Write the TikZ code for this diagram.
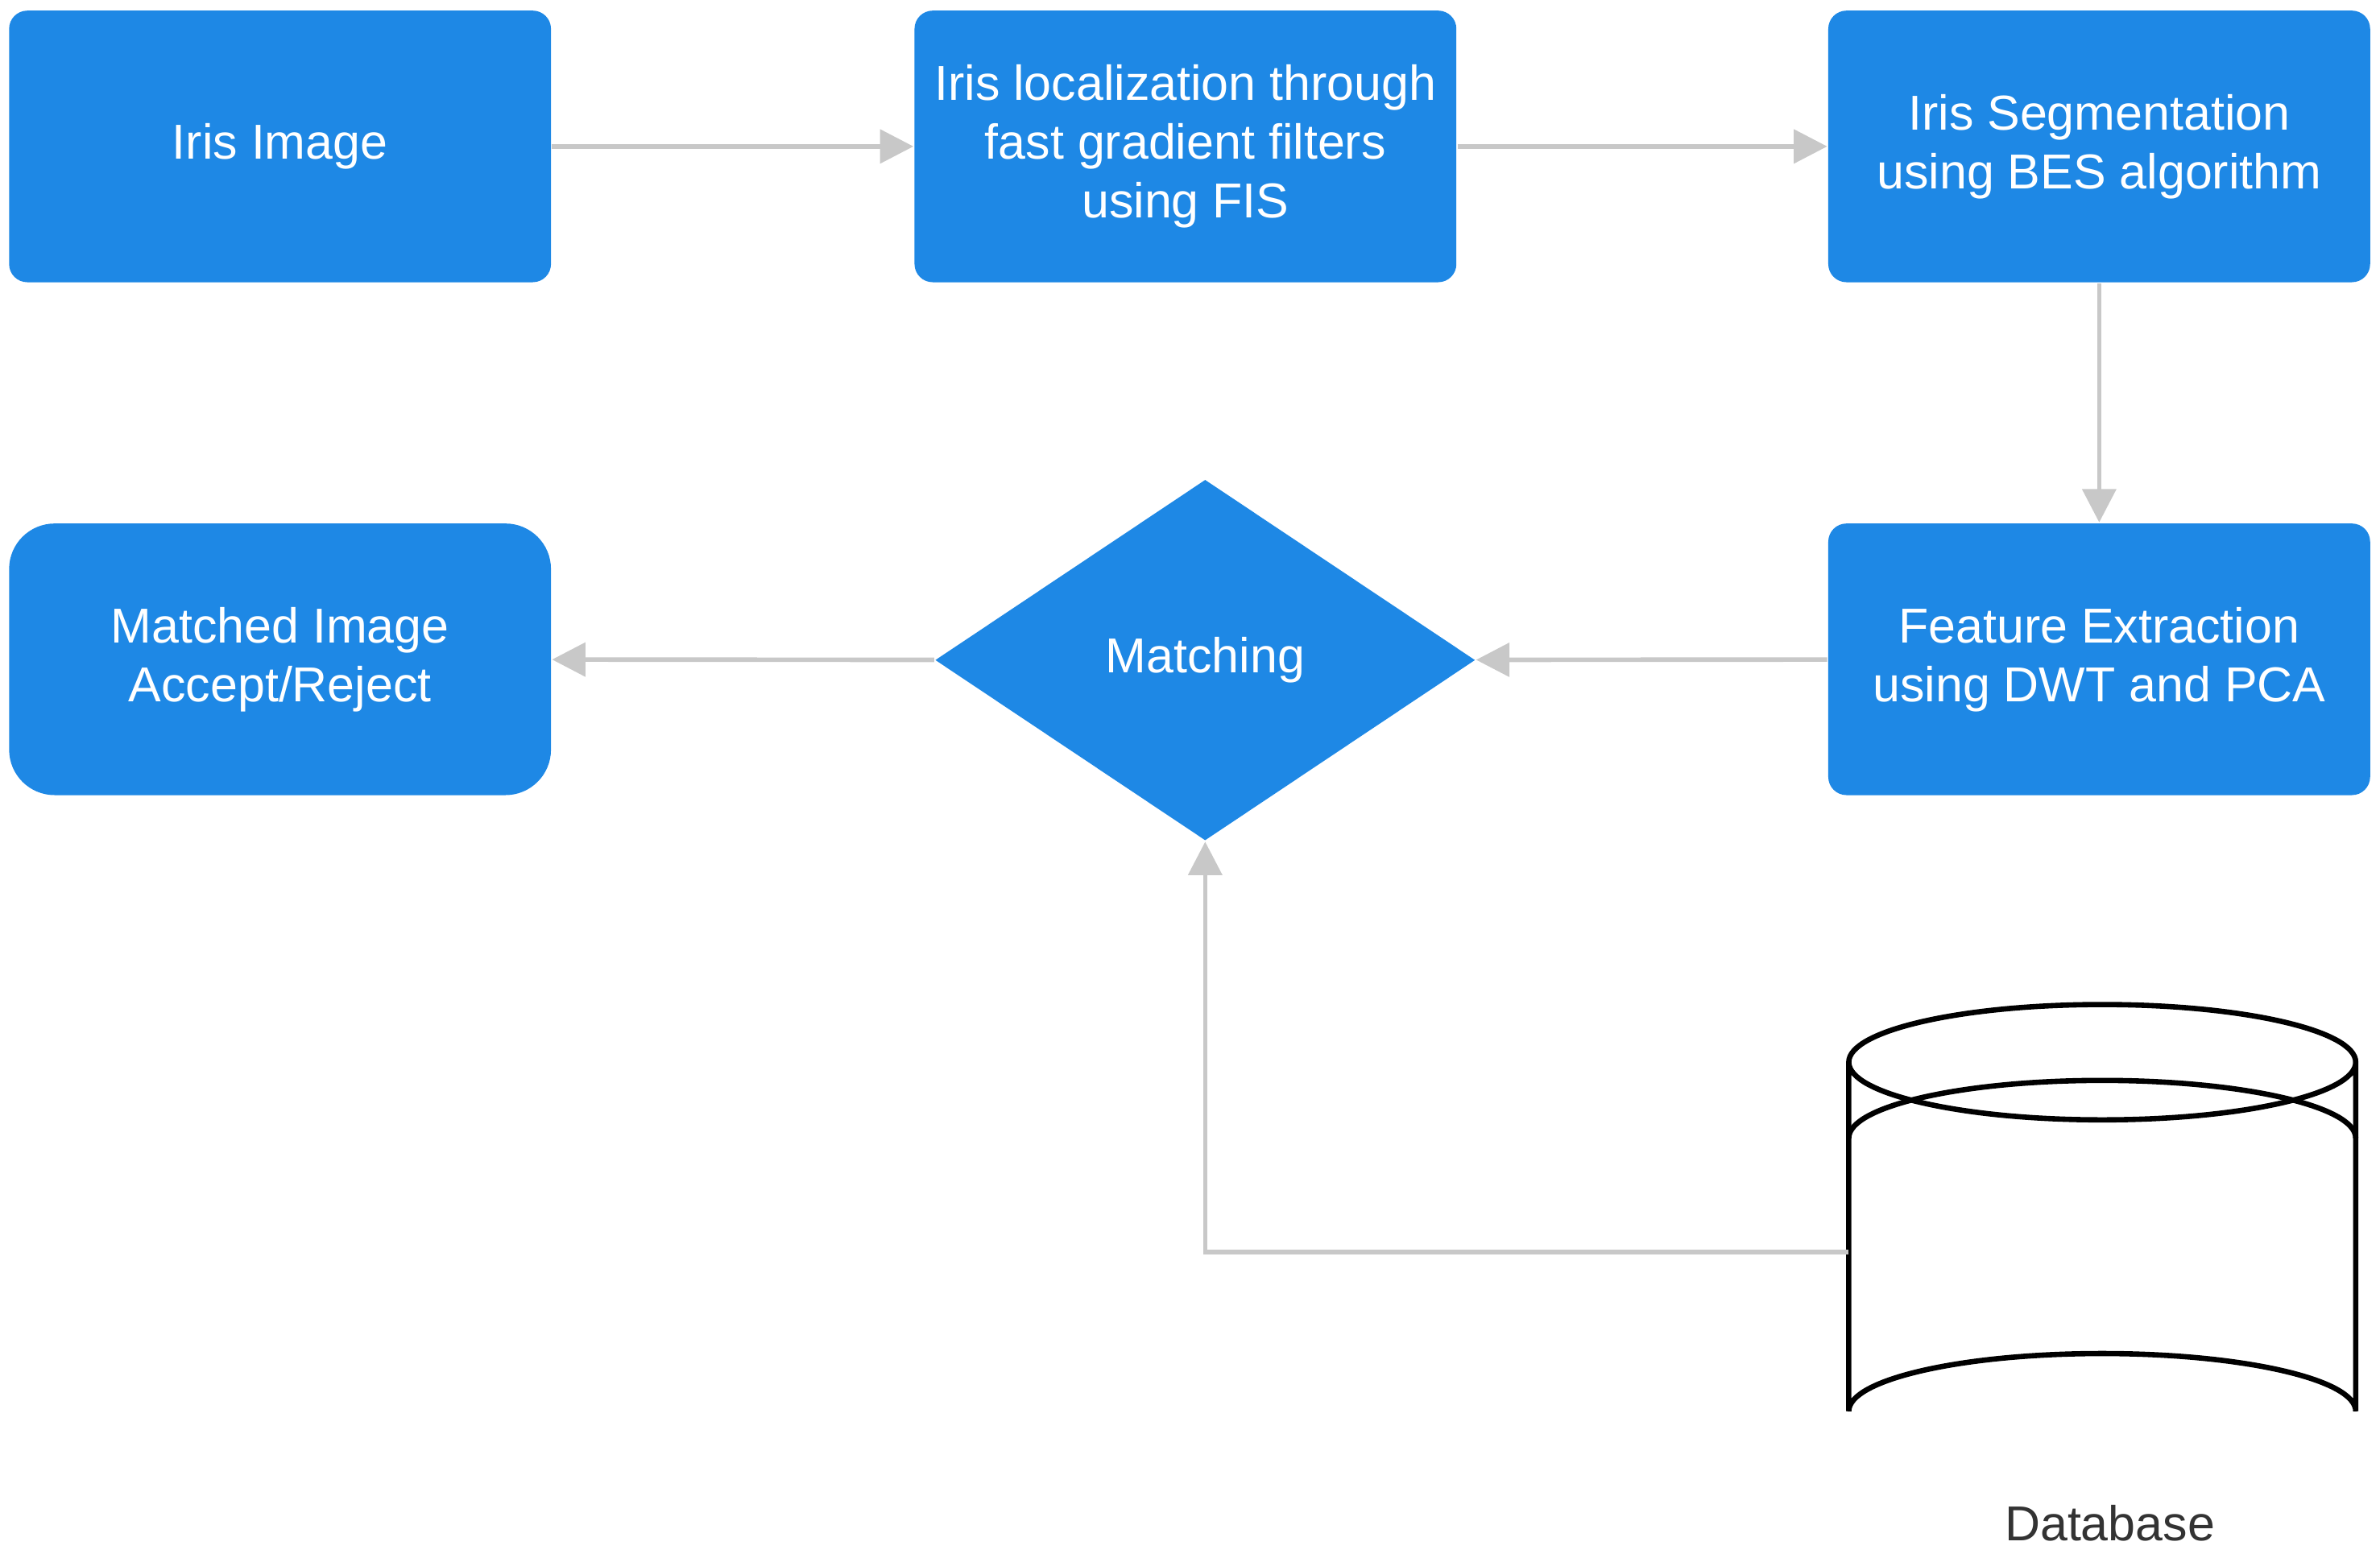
\documentclass[tikz,border=0pt]{standalone}
\usepackage{fontspec}
\setmainfont{Liberation Sans}
\usetikzlibrary{shapes.geometric,arrows.meta}
\definecolor{boxblue}{HTML}{1E88E5}
\definecolor{lg}{HTML}{C8C8C8}
\begin{document}
\begin{tikzpicture}[x=0.1mm,y=-0.1mm,
 box/.style={fill=boxblue,draw=none,rounded corners=1.2mm,minimum width=35.7mm,minimum height=17.9mm,text=white,align=center,font=\fontsize{9.2}{11}\selectfont,inner sep=0pt},
 conn/.style={draw=lg,line width=0.3mm,-{Triangle[length=2.2mm,width=2.2mm]}}]
\useasboundingbox (0,0) rectangle (1568,1024);
\node[box] (img) at (184.5,96.5) {Iris Image};
\node[box] (loc) at (781,96.5) {Iris localization through\\fast gradient filters\\using FIS};
\node[box] (seg) at (1383,96.5) {Iris Segmentation\\using BES algorithm};
\node[box] (feat) at (1383,434.5) {Feature Extraction\\using DWT and PCA};
\node[box,rounded corners=3mm] (res) at (184.5,434.5) {Matched Image\\Accept/Reject};
\node[diamond,fill=boxblue,minimum width=35.6mm,minimum height=23.8mm,inner sep=0pt,text=white,font=\fontsize{9.2}{11}\selectfont] (match) at (794,435) {Matching};
% database
\draw[black,line width=0.35mm,fill=white] (1218,700) -- (1218,930) arc[start angle=180,end angle=360,x radius=167,y radius=38] -- (1552,700) arc[start angle=0,end angle=180,x radius=167,y radius=38] -- cycle;
\draw[black,line width=0.35mm] (1218,700) arc[start angle=180,end angle=360,x radius=167,y radius=38];
\draw[black,line width=0.35mm] (1218,750) arc[start angle=180,end angle=360,x radius=167,y radius=38];
\coordinate (db) at (1218,825);
\node[text=black!80,font=\fontsize{9.2}{11}\selectfont] (dbl) at (1390,1004) {Database};
\draw[conn] (img) -- (loc);
\draw[conn] (loc) -- (seg);
\draw[conn] (seg) -- (feat);
\draw[conn] (feat) -- (match);
\draw[conn] (match) -- (res);
\draw[conn] (db) -| (match.south);
\end{tikzpicture}
\end{document}
